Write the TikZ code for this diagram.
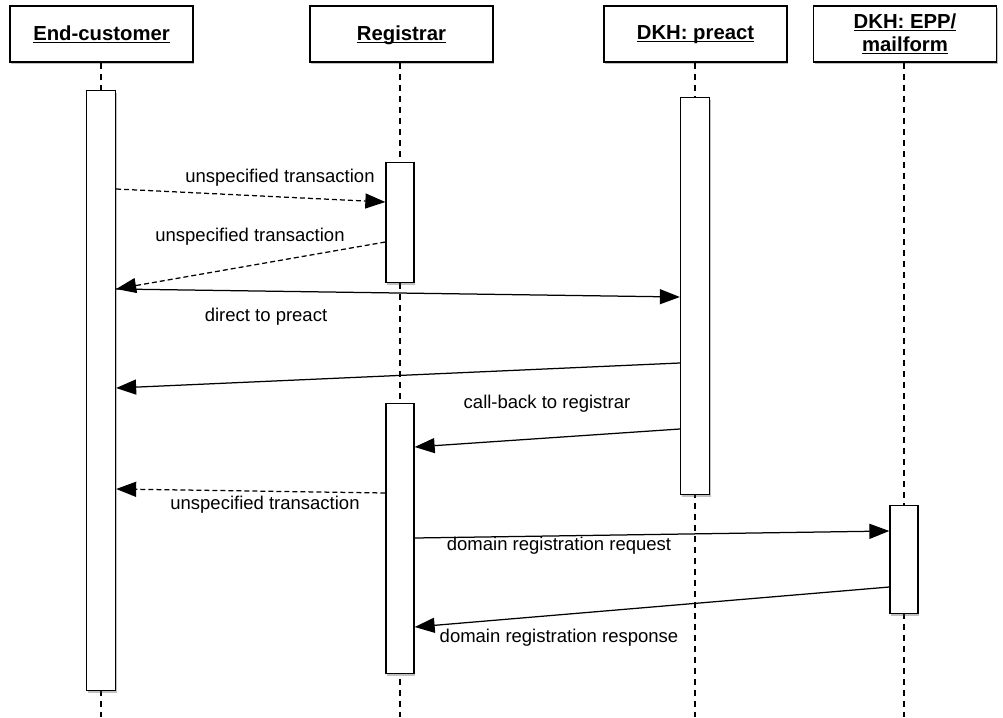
\documentclass[tikz,border=0pt]{standalone}
\usepackage{fontspec}
\setmainfont{Liberation Sans}
\usetikzlibrary{arrows.meta,shadows}
\newcommand\hul[1]{\underline{\raisebox{0pt}[\height][0pt]{#1}}}
\begin{document}
\begin{tikzpicture}[x=1pt,y=-1pt,
  shad/.style={drop shadow={shadow xshift=1.2pt, shadow yshift=-2pt, opacity=0.35, fill=black!70}},
  head/.style={draw, line width=1.5pt, fill=white, minimum width=183pt, minimum height=56pt, inner sep=0pt,
    font=\fontsize{20.3}{23}\selectfont\bfseries, align=center, shad},
  bar/.style={draw, line width=1.3pt, fill=white, minimum width=28pt, inner sep=0pt, anchor=north, shad},
  life/.style={dash pattern=on 6pt off 5pt, line width=1.2pt},
  msg/.style={line width=1.25pt, -{Triangle[length=20pt,width=15pt]}},
  ret/.style={msg, dash pattern=on 5pt off 3pt},
  lbl/.style={font=\fontsize{18.5}{21}\selectfont, inner sep=0pt}]
\useasboundingbox (0,0) rectangle (1003,717);

% headers
\node[head] (ec) at (101.5,34) {\hul{End-customer}};
\node[head] (reg) at (401.5,34) {\hul{Registrar}};
\node[head] (pre) at (695.5,34) {\hul{DKH: preact}};
\node[head] (epp) at (905,34) {\hul{DKH: EPP/}\\\hul{mailform}};

% lifelines
\coordinate (ecend) at (101,717);
\coordinate (regend) at (400,717);
\coordinate (preend) at (695,717);
\coordinate (eppend) at (904,717);
\draw[life] (ec.south -| ecend) -- (ecend);
\draw[life] (reg.south -| regend) -- (regend);
\draw[life] (pre.south -| preend) -- (preend);
\draw[life] (epp.south -| eppend) -- (eppend);

% activation bars
\node[bar, minimum width=29pt, minimum height=600pt] (ecbar) at (101,90) {};
\node[bar, minimum height=120pt] (rb1) at (400,162) {};
\node[bar, minimum height=270pt] (rb2) at (400,403) {};
\node[bar, minimum width=29pt, minimum height=397pt] (pbar) at (695,97) {};
\node[bar, minimum height=108pt] (ebar) at (904,505) {};

% messages
\draw[ret] (ecbar.east |- 0,189) -- (rb1.west |- 0,202);
\node[lbl] (l1) at (280,178) {unspecified transaction};

\draw[ret] (rb1.west |- 0,242) -- (ecbar.east |- 0,289);
\node[lbl] (l2) at (250,237) {unspecified transaction};

\draw[msg] (ecbar.east |- 0,289) -- (pbar.west |- 0,297);
\node[lbl] (l3) at (266,317) {direct to preact};

\draw[msg] (pbar.west |- 0,363) -- (ecbar.east |- 0,388);

\draw[msg] (pbar.west |- 0,429) -- (rb2.east |- 0,447);
\node[lbl] (l5) at (547,404) {call-back to registrar};

\draw[ret] (rb2.west |- 0,493) -- (ecbar.east |- 0,489);
\node[lbl] (l6) at (265,505) {unspecified transaction};

\draw[msg] (rb2.east |- 0,538) -- (ebar.west |- 0,531);
\node[lbl] (l7) at (559,546) {domain registration request};

\draw[msg] (ebar.west |- 0,587) -- (rb2.east |- 0,627);
\node[lbl] (l8) at (559,638) {domain registration response};
\end{tikzpicture}
\end{document}
